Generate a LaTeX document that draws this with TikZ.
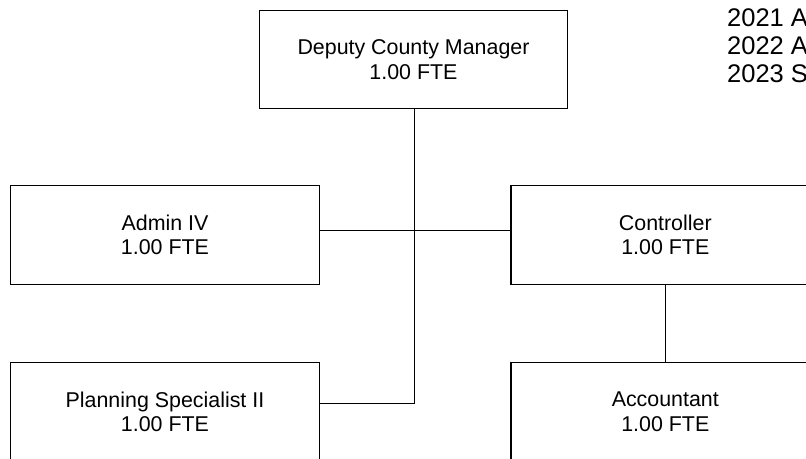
\documentclass[tikz,border=0pt]{standalone}
\usepackage{fontspec}
\setmainfont{Liberation Sans}
\usetikzlibrary{calc}
\begin{document}
\begin{tikzpicture}[x=1pt,y=-1pt,
  post/.style={draw=black, line width=1.3pt, minimum width=308.6pt,
    minimum height=98.6pt, inner sep=0pt, align=center,
    font=\fontsize{21.4pt}{24.3pt}\selectfont},
  link/.style={draw=black, line width=1.3pt},
  legend/.style={anchor=north west, inner sep=0pt, align=left,
    font=\fontsize{25.5pt}{28pt}\selectfont}]
\useasboundingbox (0,0) rectangle (806,458);
\clip (0,0) rectangle (806,458);
% positions
\node[post] (dcm) at (413.5,59.5) {Deputy County Manager\\1.00 FTE};
\node[post] (adm) at (165,235) {Admin IV\\1.00 FTE};
\node[post] (ctl) at (665.3,235) {Controller\\1.00 FTE};
\node[post] (pln) at (165,411.6) {Planning Specialist II\\1.00 FTE};
\node[post] (acc) at (665.3,411.6) {Accountant\\1.00 FTE};
% connectors
\coordinate (trunk) at (414.3,403.3);
\coordinate (mid) at (414.3,230.3);
\draw[link] (dcm.south -| trunk) -- (trunk) -- (pln.east |- trunk);
\draw[link] (adm.east |- mid) -- (ctl.west |- mid);
\draw[link] (ctl.south) -- (acc.north);
% fiscal years
\node[legend] (yrs) at (727,8.4) {2021 A\\2022 A\\2023 S};
\end{tikzpicture}
\end{document}
